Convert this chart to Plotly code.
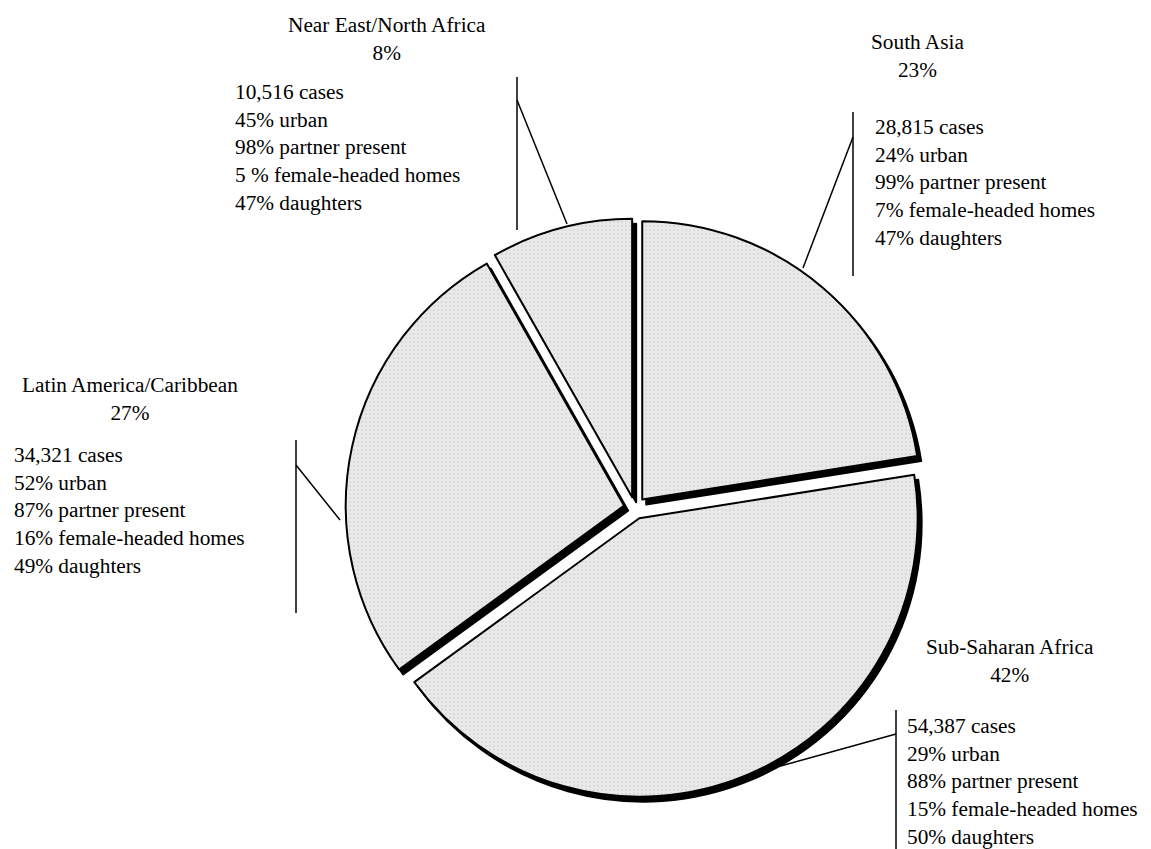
import plotly.graph_objects as go

# ---- data ----
regions = ["South Asia", "Sub-Saharan Africa", "Latin America/Caribbean", "Near East/North Africa"]
share_labels = ["23%", "42%", "27%", "8%"]
cases = [28815, 54387, 34321, 10516]
urban = ["24%", "29%", "52%", "45%"]
partner = ["99%", "88%", "87%", "98%"]
female_headed = ["7%", "15%", "16%", "5 %"]
daughters = ["47%", "50%", "49%", "47%"]

W, H = 1151, 849
FONT = "Liberation Serif, Times New Roman, serif"
FS = 21.3


def px(x):
    return x / W


def py(y):
    return 1 - y / H


# pie geometry (pixels)
cx, cy, half = 635, 508, 289.5
pull = 0.04
sx, sy = 4, 5  # shadow offset

dom = dict(x=[px(cx - half), px(cx + half)], y=[py(cy + half), py(cy - half)])
dom_sh = dict(x=[px(cx - half + sx), px(cx + half + sx)], y=[py(cy + half + sy), py(cy - half + sy)])

fig = go.Figure()
common = dict(labels=regions, values=cases, sort=False, direction="clockwise", rotation=0,
              pull=[pull] * 4, textinfo="none", hoverinfo="label+value", showlegend=False)
fig.add_trace(go.Pie(domain=dom_sh, marker=dict(colors=["#000000"] * 4,
                                                 line=dict(color="#000000", width=2)), **common))
fig.add_trace(go.Pie(domain=dom, marker=dict(colors=["#e9e9e9"] * 4,
                                             line=dict(color="#000000", width=2),
                                             pattern=dict(shape=".", fgcolor="#c4c4c4", size=4,
                                                          solidity=0.2, fillmode="overlay")),
                     **common))

# label placement (pixels): title centre x, title block mid y, body left x, body mid y
title_pos = [(917, 56), (1010, 661), (130, 399), (387, 39)]
body_pos = [(873, 183), (905, 781), (12, 510), (233, 147)]
# leader lines: vertical (x, y0, y1) and diagonal ((x0,y0),(x1,y1))
verticals = [(853, 112, 276), (896, 710, 849), (296, 440, 613), (517, 77, 230)]
diagonals = [((853, 137), (803, 268)), ((896, 734), (777, 767)),
             ((296, 465), (340, 520)), ((517, 100), (567, 224))]

for i in range(len(regions)):
    tx, ty = title_pos[i]
    fig.add_annotation(x=px(tx), y=py(ty), xref="paper", yref="paper", showarrow=False,
                       xanchor="center", yanchor="middle", align="center",
                       text=f"{regions[i]}<br>{share_labels[i]}",
                       font=dict(family=FONT, size=FS, color="black"))
    bx, by = body_pos[i]
    body = "<br>".join([f"{cases[i]:,} cases", f"{urban[i]} urban", f"{partner[i]} partner present",
                        f"{female_headed[i]} female-headed homes", f"{daughters[i]} daughters"])
    fig.add_annotation(x=px(bx), y=py(by), xref="paper", yref="paper", showarrow=False,
                       xanchor="left", yanchor="middle", align="left", text=body,
                       font=dict(family=FONT, size=FS, color="black"))
    vx, vy0, vy1 = verticals[i]
    fig.add_shape(type="line", xref="paper", yref="paper", x0=px(vx), x1=px(vx), y0=py(vy0), y1=py(vy1),
                  line=dict(color="black", width=1.5))
    (dx0, dy0), (dx1, dy1) = diagonals[i]
    fig.add_shape(type="line", xref="paper", yref="paper", x0=px(dx0), x1=px(dx1), y0=py(dy0), y1=py(dy1),
                  line=dict(color="black", width=1.5))

fig.update_layout(width=W, height=H, margin=dict(l=0, r=0, t=0, b=0),
                  paper_bgcolor="white", plot_bgcolor="white", showlegend=False)
fig.write_html("out.html")
